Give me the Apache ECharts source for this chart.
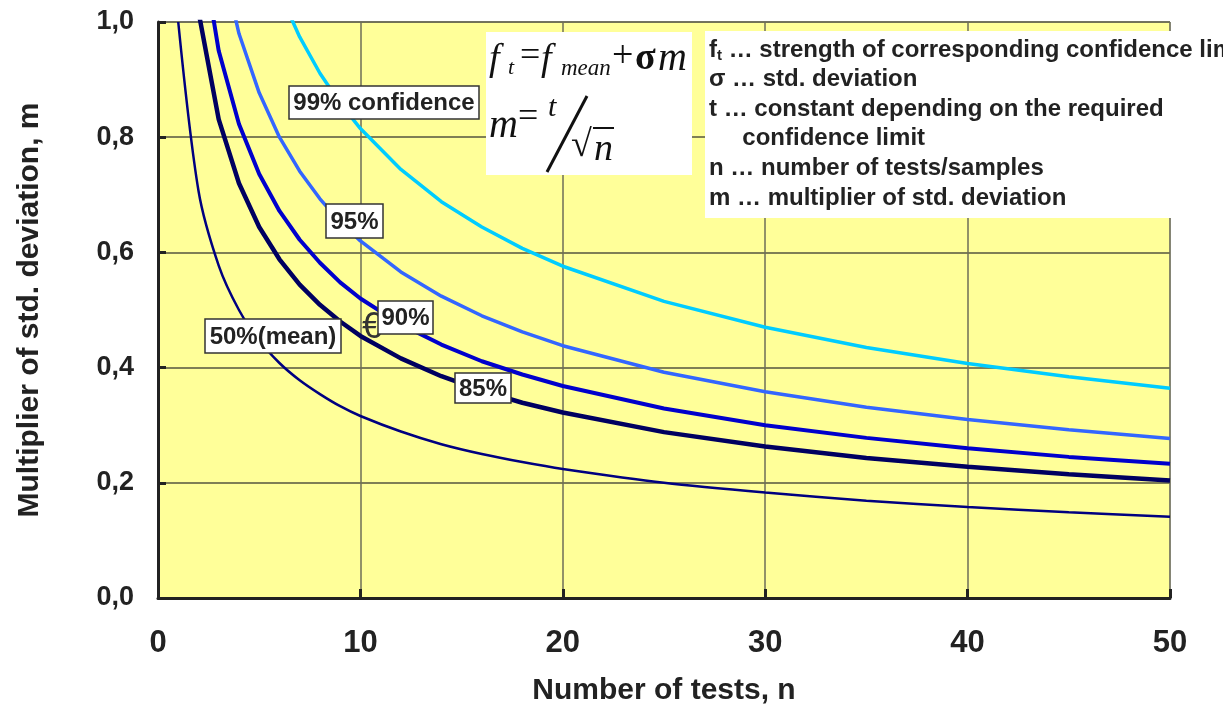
<!DOCTYPE html>
<html>
<head>
<meta charset="utf-8">
<script src="https://cdn.jsdelivr.net/npm/echarts@6/dist/echarts.min.js"></script>
<style>
  html, body { margin: 0; padding: 0; background: #fff; }
  #chart { width: 1223px; height: 711px; }
</style>
</head>
<body>
<div id="chart"></div>
<script>
// Number of tests n (x positions of the read points)
const nTests = [1, 2, 3, 4, 5, 6, 7, 8, 9, 10, 12, 14, 16, 18, 20, 25, 30, 35, 40, 45, 50];

// Multiplier m (values above 1,0 are clipped by the axis)
const m50 = [1.000, 0.707, 0.577, 0.500, 0.447, 0.408, 0.378, 0.354, 0.333, 0.316, 0.289, 0.267, 0.250, 0.236, 0.224, 0.200, 0.183, 0.169, 0.158, 0.149, 0.141];
const m85 = [1.440, 1.018, 0.831, 0.720, 0.644, 0.588, 0.544, 0.509, 0.480, 0.455, 0.416, 0.385, 0.360, 0.339, 0.322, 0.288, 0.263, 0.243, 0.228, 0.215, 0.204];
const m90 = [1.645, 1.163, 0.950, 0.823, 0.736, 0.672, 0.622, 0.582, 0.548, 0.520, 0.475, 0.440, 0.411, 0.388, 0.368, 0.329, 0.300, 0.278, 0.260, 0.245, 0.233];
const m95 = [1.960, 1.386, 1.132, 0.980, 0.877, 0.800, 0.741, 0.693, 0.653, 0.620, 0.566, 0.524, 0.490, 0.462, 0.438, 0.392, 0.358, 0.331, 0.310, 0.292, 0.277];
const m99 = [2.576, 1.821, 1.487, 1.288, 1.152, 1.052, 0.974, 0.911, 0.859, 0.815, 0.744, 0.688, 0.644, 0.607, 0.576, 0.515, 0.470, 0.435, 0.407, 0.384, 0.364];

const legendLines = [
  '{b|f}{s|t}{b| … strength of corresponding confidence limit}',
  'σ … std. deviation',
  't … constant depending on the required',
  '     confidence limit',
  'n … number of tests/samples',
  'm … multiplier of std. deviation'
];

const FONT = "'Liberation Sans', Arial, Helvetica, sans-serif";
const SERIF = "'Liberation Serif', 'Times New Roman', serif";

const toPairs = (ys) => ys.map((y, i) => [nTests[i], y]);

const chart = echarts.init(document.getElementById('chart'));

// label box helper: white rect with dark border + bold text
const box = (x, y, w, h, text) => ([
  { type: 'rect', z: 100, shape: { x: x, y: y, width: w, height: h },
    style: { fill: '#fff', stroke: '#333', lineWidth: 1.5 } },
  { type: 'text', z: 101, x: x + w / 2, y: y + h / 2 + 1,
    style: { text: text, fill: '#222', font: 'bold 24px ' + FONT, align: 'center', verticalAlign: 'middle' } }
]);

const serifText = (x, y, text, size, italic) => ({
  type: 'text', x: x, y: y, z: 101,
  style: { text: text, fill: '#111', font: (italic ? 'italic ' : '') + size + 'px ' + SERIF, verticalAlign: 'middle' }
});

const option = {
  animation: false,
  backgroundColor: '#fff',
  grid: {
    left: 158, right: 53, top: 22, bottom: 113,
    show: true, backgroundColor: '#FFFF99', borderColor: '#999', borderWidth: 1
  },
  xAxis: {
    type: 'value', min: 0, max: 50, interval: 10,
    name: 'Number of tests, n', nameLocation: 'middle', nameGap: 78,
    nameTextStyle: { fontFamily: FONT, fontWeight: 'bold', fontSize: 30, color: '#222' },
    axisLine: { show: true, lineStyle: { color: '#222', width: 3 } },
    axisTick: { show: true, inside: true, length: 9, lineStyle: { color: '#222', width: 3 } },
    axisLabel: { fontFamily: FONT, fontWeight: 'bold', fontSize: 31, color: '#222', margin: 30 },
    splitLine: { show: true, lineStyle: { color: '#6e6e58', width: 1.5 } }
  },
  yAxis: {
    type: 'value', min: 0, max: 1, interval: 0.2,
    name: 'Multiplier of std. deviation, m', nameLocation: 'middle', nameGap: 113,
    nameTextStyle: { fontFamily: FONT, fontWeight: 'bold', fontSize: 30, color: '#222' },
    axisLine: { show: true, lineStyle: { color: '#222', width: 3 } },
    axisTick: { show: true, inside: true, length: 8, lineStyle: { color: '#222', width: 3 } },
    axisLabel: {
      fontFamily: FONT, fontWeight: 'bold', fontSize: 27, color: '#222', margin: 24,
      formatter: (v) => v.toFixed(1).replace('.', ',')
    },
    splitLine: { show: true, lineStyle: { color: '#55553f', width: 1.5 } }
  },
  series: [
    { name: '50%', type: 'line', data: toPairs(m50), symbol: 'none', clip: true,
      smooth: 0.3,
      lineStyle: { color: '#000080', width: 2.5 } },
    { name: '85%', type: 'line', data: toPairs(m85), symbol: 'none', clip: true,
      lineStyle: { color: '#000060', width: 4.5 } },
    { name: '90%', type: 'line', data: toPairs(m90), symbol: 'none', clip: true,
      lineStyle: { color: '#0000CC', width: 4 } },
    { name: '95%', type: 'line', data: toPairs(m95), symbol: 'none', clip: true,
      lineStyle: { color: '#3366FF', width: 3.5 } },
    { name: '99%', type: 'line', data: toPairs(m99), symbol: 'none', clip: true,
      lineStyle: { color: '#00CCFF', width: 3.5 } }
  ],
  graphic: [
    // euro glyph left of the 90% label
    { type: 'text', x: 362, y: 328, z: 90,
      style: { text: '€', fill: '#333', font: '36px ' + FONT, verticalAlign: 'middle' } },
    ...box(289, 86, 190, 33, '99% confidence'),
    ...box(326, 204, 57, 34, '95%'),
    ...box(378, 301, 55, 33, '90%'),
    ...box(205, 319, 136, 34, '50%(mean)'),
    ...box(455, 373, 56, 30, '85%'),

    // formula box
    { type: 'rect', z: 99, shape: { x: 486, y: 32, width: 206, height: 143 }, style: { fill: '#fff' } },
    serifText(489, 60, 'f', 38, true),
    serifText(508, 68, 't', 22, true),
    serifText(520, 57, '=', 36, false),
    serifText(541, 60, 'f', 38, true),
    serifText(561, 69, 'mean', 23, true),
    serifText(612, 57, '+', 38, false),
    { type: 'text', x: 635, y: 59, z: 101,
      style: { text: 'σ', fill: '#111', font: 'bold 38px ' + SERIF, verticalAlign: 'middle' } },
    serifText(658, 59, 'm', 40, true),
    serifText(489, 126, 'm', 40, true),
    serifText(518, 118, '=', 36, false),
    serifText(548, 108, 't', 30, true),
    { type: 'line', z: 101, shape: { x1: 547, y1: 172, x2: 587, y2: 96 },
      style: { stroke: '#111', lineWidth: 3 } },
    serifText(571, 146, '√', 38, false),
    { type: 'line', z: 101, shape: { x1: 593, y1: 128, x2: 614, y2: 128 },
      style: { stroke: '#111', lineWidth: 2 } },
    serifText(594, 150, 'n', 38, true),

    // explanation box
    { type: 'rect', z: 99, shape: { x: 705, y: 31, width: 530, height: 187 }, style: { fill: '#fff' } },
    ...legendLines.map((t, i) => ({
      type: 'text', x: 709, y: 50 + i * 29.6, z: 101,
      style: {
        text: t, fill: '#222', font: 'bold 24px ' + FONT, verticalAlign: 'middle',
        rich: {
          b: { fontFamily: FONT, fontWeight: 'bold', fontSize: 24, fill: '#222' },
          s: { fontFamily: FONT, fontWeight: 'bold', fontSize: 15, fill: '#222', padding: [11, 0, 0, 0] }
        }
      }
    }))
  ]
};

chart.setOption(option);
</script>
</body>
</html>
